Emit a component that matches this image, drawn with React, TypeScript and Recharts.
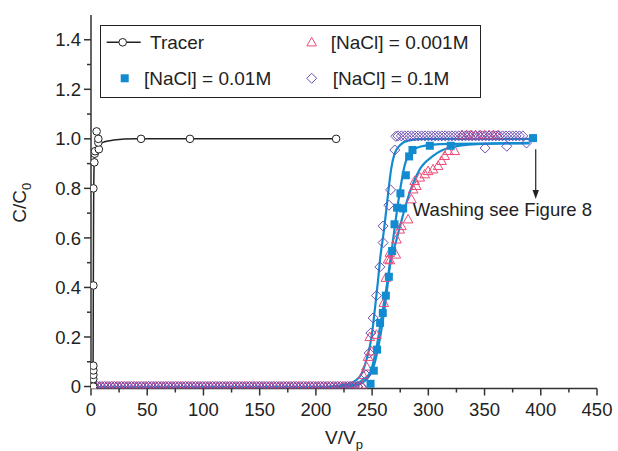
import React from 'react';
import { ComposedChart, Line, Scatter, XAxis, YAxis, Legend, ReferenceDot, ReferenceLine } from 'recharts';

// ---------- axis ticks ----------
const xMajorTicks = [0, 50, 100, 150, 200, 250, 300, 350, 400, 450];
const xMinorTicks = [25, 75, 125, 175, 225, 275, 325, 375, 425];
const yMajorTicks = [0, 0.2, 0.4, 0.6, 0.8, 1.0, 1.2, 1.4];
const yMinorTicks = [0.1, 0.3, 0.5, 0.7, 0.9, 1.1, 1.3];

// ---------- series names ----------
const seriesNames = ['Tracer', '[NaCl] = 0.001M', '[NaCl] = 0.01M', '[NaCl] = 0.1M'];
const annotationText = 'Washing see Figure 8';

// ---------- tracer ----------
const tracerPoints: [number, number][] = [
  [2, 0], [2, 0.03], [2.1, 0.047], [2.1, 0.065], [2.1, 0.084], [2.1, 0.408], [2.1, 0.8],
  [3, 0.905], [3.3, 0.94], [3.6, 0.95], [7, 0.958], [6.5, 0.985], [6.5, 1.0], [5, 1.03],
  [44.5, 1.0], [88, 1.0], [218, 1.0],
];
const tracerFit: [number, number][] = [
  [1.8, 0], [2, 0.3], [2.3, 0.7], [2.8, 0.9], [4, 0.955], [7, 0.975], [12, 0.988], [20, 0.995], [40, 1.0], [218, 1.0],
];

// ---------- baseline V positions (C = 0) ----------
const diamondBaselineV = [
  3, 6, 9, 12, 15, 18, 21, 24, 27, 30, 33, 36, 39, 42, 45, 48, 51, 54, 57, 60, 63, 66, 69, 72, 75, 78,
  81, 84, 87, 90, 93, 96, 99, 102, 105, 108, 111, 114, 117, 120, 123, 126, 129, 132, 135, 138, 141, 144,
  147, 150, 153, 156, 159, 162, 165, 168, 171, 174, 177, 180, 183, 186, 189, 192, 195, 198, 201, 204,
  207, 210, 213, 216, 219, 222, 225, 228, 231, 234, 237,
];
const triangleBaselineV = [
  1.5, 4.5, 7.5, 10.5, 13.5, 16.5, 19.5, 22.5, 25.5, 28.5, 31.5, 34.5, 37.5, 40.5, 43.5, 46.5, 49.5,
  52.5, 55.5, 58.5, 61.5, 64.5, 67.5, 70.5, 73.5, 76.5, 79.5, 82.5, 85.5, 88.5, 91.5, 94.5, 97.5, 100.5,
  103.5, 106.5, 109.5, 112.5, 115.5, 118.5, 121.5, 124.5, 127.5, 130.5, 133.5, 136.5, 139.5, 142.5,
  145.5, 148.5, 151.5, 154.5, 157.5, 160.5, 163.5, 166.5, 169.5, 172.5, 175.5, 178.5, 181.5, 184.5,
  187.5, 190.5, 193.5, 196.5, 199.5, 202.5, 205.5, 208.5, 211.5, 214.5, 217.5, 220.5, 223.5, 226.5,
  229.5, 232.5, 235.5, 238.5,
];

// ---------- [NaCl] = 0.001M (triangles) ----------
const nacl001Points: [number, number][] = [
  [241, 0.005], [242, 0.047], [245, 0.081], [246.4, 0.12], [247.9, 0.2], [249.5, 0.142], [253.9, 0.209],
  [260.4, 0.338], [262.2, 0.439], [264.2, 0.513], [265.8, 0.51], [265.8, 0.54], [271.1, 0.533],
  [271.7, 0.594], [274.6, 0.634], [276, 0.648], [282, 0.675], [285, 0.756], [286.5, 0.796],
  [287.9, 0.83], [289.4, 0.81], [292.4, 0.844], [296.8, 0.857], [299.8, 0.87], [304.2, 0.877],
  [308.7, 0.891], [311.7, 0.911], [314.6, 0.931], [317.6, 0.951], [323.5, 0.951],
  [330, 1.015], [334, 1.015], [338, 1.015], [342, 1.015], [346, 1.015], [350, 1.015], [354, 1.015],
  [358, 1.015], [362, 1.015],
];
const nacl001Fit: [number, number][] = [
  [0, -0.004], [215, -0.004], [230, 0.0], [240, 0.012], [247, 0.04], [252, 0.09], [256, 0.17],
  [260, 0.28], [263, 0.38], [265.8, 0.486], [270.2, 0.567], [275, 0.65], [280.6, 0.743],
  [286, 0.815], [292.4, 0.877], [304.2, 0.931], [319.1, 0.965], [342.8, 0.979], [390, 0.984],
];

// ---------- [NaCl] = 0.01M (squares) ----------
const nacl01Points: [number, number][] = [
  [248.6, 0.011], [251.5, 0.064], [254.4, 0.149], [257.1, 0.257], [259.5, 0.297], [262.2, 0.367],
  [264.9, 0.443], [267.8, 0.547], [269.9, 0.655], [272.2, 0.722], [277.6, 0.719], [275.2, 0.78],
  [280, 0.853], [282.9, 0.929], [285.9, 0.955], [301.3, 0.972], [319.9, 0.972], [393.1, 1.003],
];
const nacl01Fit: [number, number][] = [
  [0, -0.004], [210, -0.004], [225, 0.0], [235, 0.01], [242, 0.028], [248, 0.054], [254, 0.16],
  [258.4, 0.28], [262.8, 0.4], [267.7, 0.56], [273.4, 0.75], [279.4, 0.9], [286.8, 0.958],
  [301.6, 0.976], [320, 0.98], [390, 0.982],
];

// ---------- [NaCl] = 0.1M (diamonds) ----------
const nacl1Points: [number, number][] = [
  [240.6, -0.002], [244.5, 0.047], [247.4, 0.135], [248.9, 0.216], [250.9, 0.277], [253.9, 0.367],
  [256.9, 0.483], [259.8, 0.581], [259.8, 0.648], [264.9, 0.732], [266.4, 0.794], [270.2, 0.955],
  [271.1, 1.01], [350.5, 0.963], [369.8, 0.97], [387.3, 0.983],
];
const nacl1TopV = [
  273, 276, 279, 282, 285, 288, 291, 294, 297, 300, 303, 306, 309, 312, 315, 318, 321, 324, 327,
  330, 333, 336, 339, 342, 345, 348, 351, 354, 357, 360, 363, 366, 369, 372, 375, 378, 381, 384,
];
const nacl1TopC = 1.012;
const nacl1Fit: [number, number][] = [
  [0, -0.004], [200, -0.004], [220, 0.003], [230, 0.012], [239, 0.04], [245, 0.108], [249.5, 0.2],
  [252.4, 0.31], [255.3, 0.43], [257, 0.51], [260.5, 0.63], [263.5, 0.75], [267, 0.88], [270, 0.94],
  [275, 0.975], [282, 0.993], [295, 1.0], [390, 1.0],
];

// ---------- annotation positions (data coords) ----------
const arrowFrom = { v: 395.5, c: 0.958 };
const arrowTo = { v: 395.5, c: 0.757 };
const textAt = { v: 286.2, c: 0.688 };

// ---------- styling ----------
const FONT = "'Liberation Sans', Arial, Helvetica, sans-serif";
const AXIS = '#333';
const TEXT = '#222';
const BLUE = '#128bd0';
const PINK = '#ec4a78';
const PURPLE = '#6c4fb3';

const toRows = (pts: [number, number][]) => pts.map(([v, c]) => ({ v, c }));
const tracerData = toRows(tracerPoints);
const tracerFitData = toRows(tracerFit);
const tri = [...triangleBaselineV.map((v) => ({ v, c: 0 })), ...toRows(nacl001Points)];
const sq = toRows(nacl01Points);
const dia = [
  ...diamondBaselineV.map((v) => ({ v, c: 0 })),
  ...toRows(nacl1Points),
  ...nacl1TopV.map((v) => ({ v, c: nacl1TopC })),
];

const isMajorX = (v: number) => xMajorTicks.includes(v);
const isMajorY = (v: number) => yMajorTicks.some((t) => Math.abs(t - v) < 1e-9);

const BottomTick = (p: any) => {
  const v = p.payload.value;
  const major = isMajorX(v);
  return (
    <g>
      <line x1={p.x} y1={p.y} x2={p.x} y2={p.y + (major ? 7 : 4)} stroke={AXIS} strokeWidth={1.5} />
      {major && (
        <text x={p.x} y={p.y + 27} textAnchor="middle" fontSize={18.5} fontFamily={FONT} fill={TEXT}>
          {v}
        </text>
      )}
    </g>
  );
};
const TopTick = (p: any) => {
  const major = isMajorX(p.payload.value);
  return <line x1={p.x} y1={p.y} x2={p.x} y2={p.y + (major ? 7 : 4)} stroke={AXIS} strokeWidth={1.5} />;
};
const LeftTick = (p: any) => {
  const v = p.payload.value;
  const major = isMajorY(v);
  return (
    <g>
      <line x1={p.x - (major ? 7 : 4)} y1={p.y} x2={p.x} y2={p.y} stroke={AXIS} strokeWidth={1.5} />
      {major && (
        <text x={p.x - 10} y={p.y} dy="0.36em" textAnchor="end" fontSize={18.5} fontFamily={FONT} fill={TEXT}>
          {Math.abs(v) < 1e-9 ? '0' : v.toFixed(1)}
        </text>
      )}
    </g>
  );
};
const RightTick = (p: any) => {
  const major = isMajorY(p.payload.value);
  return <line x1={p.x - (major ? 7 : 4)} y1={p.y} x2={p.x} y2={p.y} stroke={AXIS} strokeWidth={1.5} />;
};

const Circle = (p: any) => <circle cx={p.cx} cy={p.cy} r={3.8} fill="#fff" stroke={TEXT} strokeWidth={1} />;
const Square = (p: any) => <rect x={p.cx - 4} y={p.cy - 4} width={8} height={8} fill={BLUE} />;
const Triangle = (p: any) => (
  <path
    d={`M${p.cx},${p.cy - 5} L${p.cx + 4.8},${p.cy + 3.6} L${p.cx - 4.8},${p.cy + 3.6} Z`}
    fill="none"
    stroke={PINK}
    strokeWidth={1}
  />
);
const Diamond = (p: any) => (
  <path
    d={`M${p.cx},${p.cy - 5} L${p.cx + 5},${p.cy} L${p.cx},${p.cy + 5} L${p.cx - 5},${p.cy} Z`}
    fill="none"
    stroke={PURPLE}
    strokeWidth={1}
  />
);

const Arrow = (p: any) => {
  const { x1, y1, x2, y2 } = p;
  const top = Math.min(y1, y2);
  const tip = Math.max(y1, y2);
  return (
    <g>
      <line x1={x1} y1={top} x2={x2} y2={tip - 8} stroke={TEXT} strokeWidth={1.2} />
      <path d={`M${x2},${tip} L${x2 - 3.2},${tip - 9} L${x2 + 3.2},${tip - 9} Z`} fill={TEXT} />
    </g>
  );
};
const AnnotationText = (p: any) => (
  <text x={p.cx} y={p.cy} fontSize={18.5} fontFamily={FONT} fill={TEXT}>
    {annotationText}
  </text>
);

const LegendBox = () => (
  <svg width={381} height={73} style={{ display: 'block' }}>
    <rect x={0.5} y={0.5} width={380} height={72} fill="#fff" stroke={TEXT} strokeWidth={1} />
    <g fontFamily={FONT} fontSize={19} fill={TEXT}>
      <line x1={6.7} y1={17.3} x2={40.7} y2={17.3} stroke={TEXT} strokeWidth={1.5} />
      <circle cx={22.7} cy={17.3} r={3.8} fill="#fff" stroke={TEXT} />
      <text x={50} y={17.3} dy="0.36em">{seriesNames[0]}</text>
      <path d={`M211.7,12.3 L216.5,20.9 L206.9,20.9 Z`} fill="none" stroke={PINK} />
      <text x={230.7} y={17.3} dy="0.36em">{seriesNames[1]}</text>
      <rect x={20.7} y={49.3} width={8} height={8} fill={BLUE} />
      <text x={44} y={53.3} dy="0.36em">{seriesNames[2]}</text>
      <path d={`M211.7,48.3 L216.7,53.3 L211.7,58.3 L206.7,53.3 Z`} fill="none" stroke={PURPLE} />
      <text x={232.7} y={53.3} dy="0.36em">{seriesNames[3]}</text>
    </g>
  </svg>
);

const YLabel = (p: any) => {
  const vb = p.viewBox;
  const cx = 19;
  const cy = vb.y + vb.height / 2 + 1;
  return (
    <text x={cx} y={cy} transform={`rotate(-90, ${cx}, ${cy})`} textAnchor="middle" dy="0.36em" fontSize={19} fontFamily={FONT} fill={TEXT}>
      C/C<tspan fontSize={13} dy={5}>0</tspan>
    </text>
  );
};
const XLabel = (p: any) => {
  const vb = p.viewBox;
  const cx = vb.x + vb.width / 2;
  return (
    <text x={cx} y={444} textAnchor="middle" fontSize={19} fontFamily={FONT} fill={TEXT}>
      V/V<tspan fontSize={13} dy={5}>p</tspan>
    </text>
  );
};

export default function App() {
  const xTicks = [...xMajorTicks, ...xMinorTicks].sort((a, b) => a - b);
  const yTicks = [...yMajorTicks, ...yMinorTicks].sort((a, b) => a - b);
  const yDomain: [number, number] = [-0.008, 1.5];
  return (
    <div style={{ position: 'absolute', left: 0, top: 0, width: 618, height: 451, background: '#fff' }}>
      <ComposedChart width={618} height={451} margin={{ top: 15, right: 21, bottom: 32.5, left: 31 }}>
        <XAxis
          dataKey="v"
          type="number"
          domain={[0, 450]}
          ticks={xTicks}
          interval={0}
          allowDataOverflow
          tickSize={0}
          tickMargin={0}
          tickLine={false}
          tick={<BottomTick />}
          height={30}
          axisLine={{ stroke: AXIS, strokeWidth: 1.5 }}
          label={<XLabel />}
        />
        <XAxis
          xAxisId="top"
          orientation="top"
          dataKey="v"
          type="number"
          domain={[0, 450]}
          ticks={xTicks}
          interval={0}
          allowDataOverflow
          tickSize={0}
          tickMargin={0}
          tickLine={false}
          tick={<TopTick />}
          height={0}
          axisLine={{ stroke: AXIS, strokeWidth: 1.5 }}
        />
        <YAxis
          dataKey="c"
          type="number"
          domain={yDomain}
          ticks={yTicks}
          interval={0}
          allowDataOverflow
          tickSize={0}
          tickMargin={0}
          tickLine={false}
          tick={<LeftTick />}
          width={60}
          axisLine={{ stroke: AXIS, strokeWidth: 1.5 }}
          label={<YLabel />}
        />
        <YAxis
          yAxisId="right"
          orientation="right"
          dataKey="c"
          type="number"
          domain={yDomain}
          ticks={yTicks}
          interval={0}
          allowDataOverflow
          tickSize={0}
          tickMargin={0}
          tickLine={false}
          tick={<RightTick />}
          width={0}
          axisLine={{ stroke: AXIS, strokeWidth: 1.5 }}
        />
        <Scatter name={seriesNames[1]} data={tri} dataKey="c" shape={<Triangle />} isAnimationActive={false} />
        <Scatter name={seriesNames[3]} data={dia} dataKey="c" shape={<Diamond />} isAnimationActive={false} />
        <Line data={toRows(nacl1Fit)} dataKey="c" type="monotone" stroke={BLUE} strokeWidth={2.2} dot={false} activeDot={false} isAnimationActive={false} legendType="none" />
        <Line data={toRows(nacl01Fit)} dataKey="c" type="monotone" stroke={BLUE} strokeWidth={2.2} dot={false} activeDot={false} isAnimationActive={false} legendType="none" />
        <Line data={toRows(nacl001Fit)} dataKey="c" type="monotone" stroke={BLUE} strokeWidth={2.2} dot={false} activeDot={false} isAnimationActive={false} legendType="none" />
        <Scatter name={seriesNames[2]} data={sq} dataKey="c" shape={<Square />} isAnimationActive={false} />
        <Line data={tracerFitData} dataKey="c" type="monotone" stroke={TEXT} strokeWidth={1.5} dot={false} activeDot={false} isAnimationActive={false} legendType="none" />
        <Scatter name={seriesNames[0]} data={tracerData} dataKey="c" shape={<Circle />} isAnimationActive={false} />
        <ReferenceLine
          segment={[{ x: arrowFrom.v, y: arrowFrom.c }, { x: arrowTo.v, y: arrowTo.c }]}
          shape={<Arrow />}
          ifOverflow="visible"
        />
        <ReferenceDot x={textAt.v} y={textAt.c} r={0} shape={<AnnotationText />} ifOverflow="visible" />
        <Legend
          layout="horizontal"
          verticalAlign="middle"
          align="center"
          wrapperStyle={{ left: 100, top: 25, width: 381, height: 73 }}
          content={<LegendBox />}
        />
      </ComposedChart>
    </div>
  );
}
